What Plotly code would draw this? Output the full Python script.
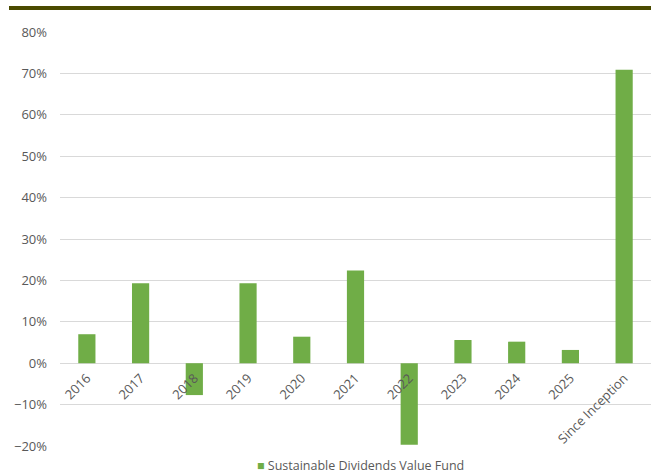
import plotly.graph_objects as go

# Annual and since-inception returns, as fractions
categories = ["2016", "2017", "2018", "2019", "2020", "2021", "2022",
              "2023", "2024", "2025", "Since Inception"]
fund_returns = [0.070, 0.193, -0.077, 0.193, 0.064, 0.224, -0.197,
                0.056, 0.052, 0.032, 0.709]
series_name = "Sustainable Dividends Value Fund"

y_min, y_max = -0.2, 0.8
tick_values = [-0.2, -0.1, 0.0, 0.1, 0.2, 0.3, 0.4, 0.5, 0.6, 0.7, 0.8]

W, H = 651, 474
M_L, M_R, M_T, M_B = 60, 0, 32, 28
plot_h = H - M_T - M_B
plot_w = W - M_L - M_R

GREEN = "#70AD47"
GRID = "#D9D9D9"
TEXT = "#595959"
FONT = "Open Sans"

fig = go.Figure()
fig.add_trace(go.Bar(
    x=categories,
    y=fund_returns,
    name=series_name,
    marker=dict(color=GREEN, line=dict(width=0)),
    showlegend=False,
))

# category axis sits on the zero line
zero_frac = (0 - y_min) / (y_max - y_min)

fig.update_layout(
    width=W, height=H,
    margin=dict(l=M_L, r=M_R, t=M_T, b=M_B, autoexpand=False),
    paper_bgcolor="white",
    plot_bgcolor="white",
    bargap=0.68,
    font=dict(family=FONT, size=12.5, color=TEXT),
    xaxis=dict(
        type="category",
        anchor="free",
        position=zero_frac,
        tickangle=-45,
        showgrid=False,
        showline=False,
        ticks="",
        automargin=False,
        ticklabelstandoff=4,
        tickfont=dict(family=FONT, size=13, color=TEXT),
    ),
    yaxis=dict(
        range=[y_min, y_max],
        tickvals=tick_values,
        tickformat=".0%",
        showgrid=True,
        gridcolor=GRID,
        gridwidth=1,
        zeroline=True,
        zerolinecolor=GRID,
        zerolinewidth=1,
        showline=False,
        ticks="",
        automargin=False,
        ticklabelstandoff=12,
        tickfont=dict(family=FONT, size=13, color=TEXT),
    ),
    annotations=[dict(
        text=f'<span style="color:{GREEN}">■</span> {series_name}',
        xref="paper", yref="paper",
        x=(360 - M_L) / plot_w, xanchor="center",
        y=(M_T + plot_h - 465) / plot_h, yanchor="middle",
        showarrow=False,
        font=dict(family=FONT, size=12.5, color=TEXT),
    )],
    shapes=[dict(
        type="rect",
        xref="paper", yref="paper",
        x0=(9 - M_L) / plot_w, x1=1.0,
        y0=(M_T + plot_h - 10) / plot_h, y1=(M_T + plot_h - 6) / plot_h,
        fillcolor="#4B4B00",
        line=dict(width=0),
        layer="above",
    )],
)

fig.write_html("out.html")
